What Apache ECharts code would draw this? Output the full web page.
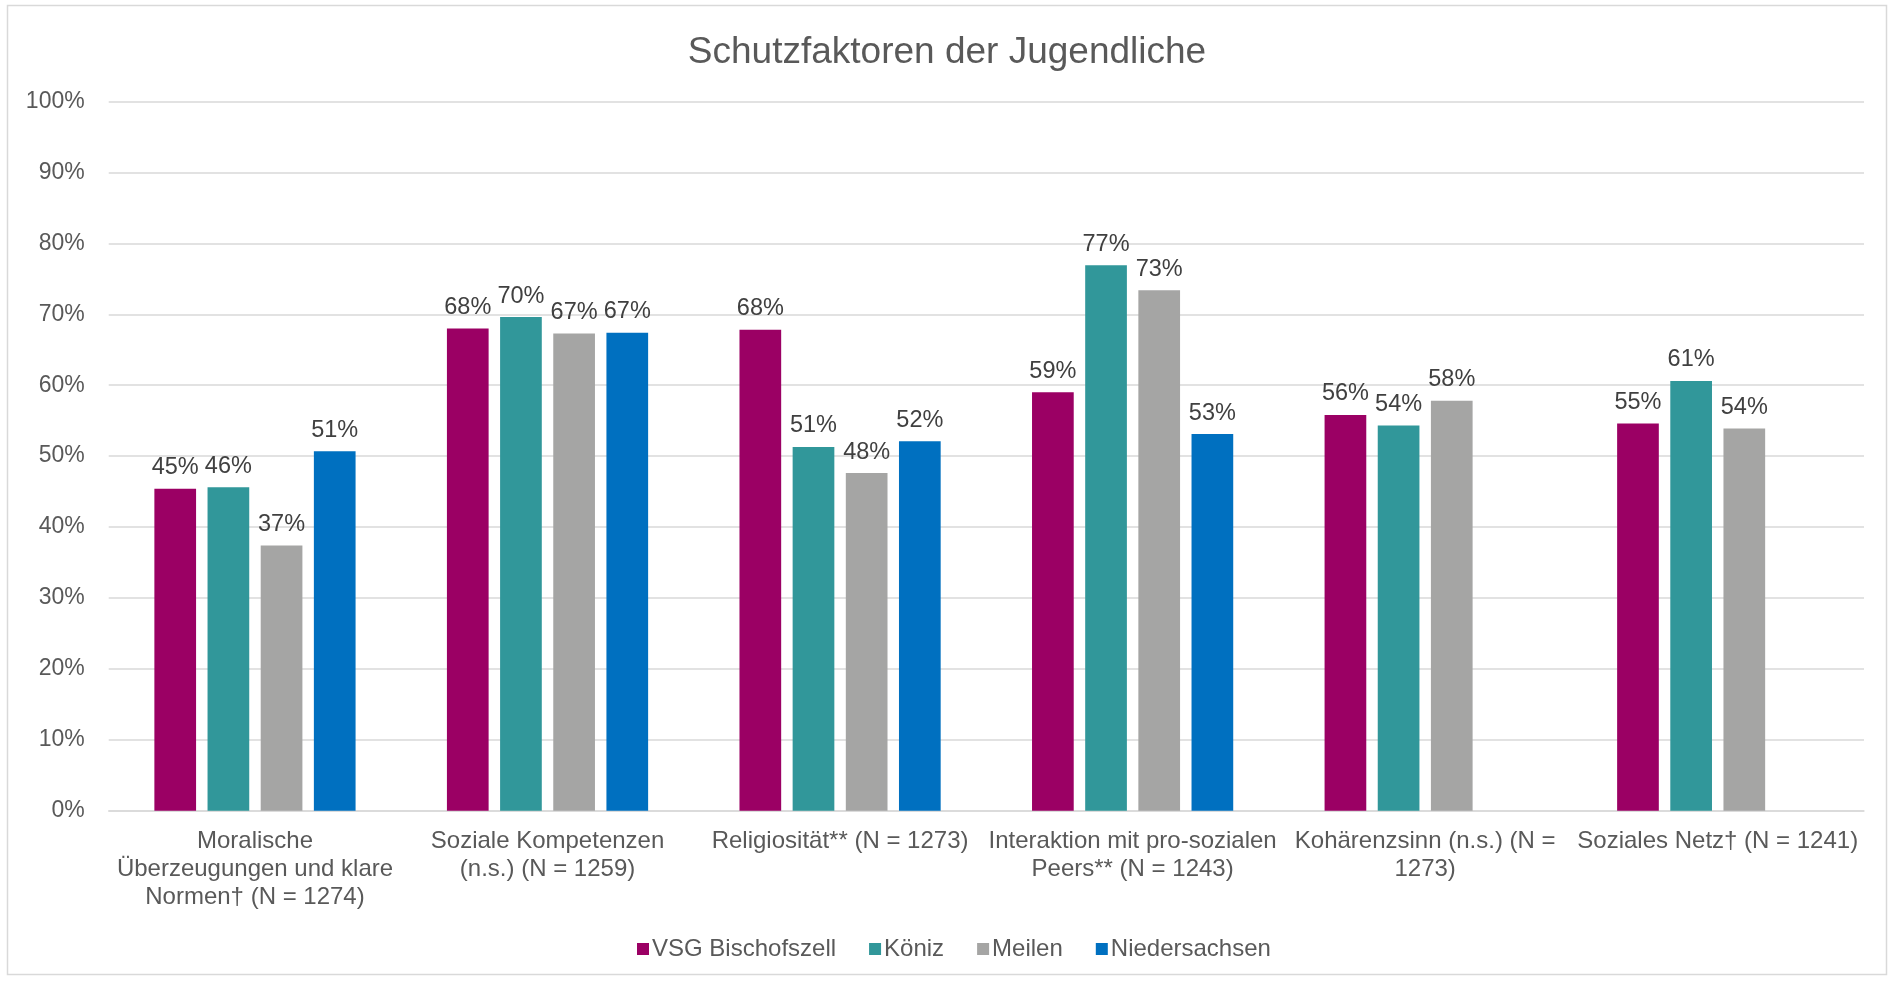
<!DOCTYPE html>
<html>
<head>
<meta charset="utf-8">
<script src="https://cdn.jsdelivr.net/npm/echarts@6/dist/echarts.min.js"></script>
<style>
html,body{margin:0;padding:0;background:#fff;}
#chart{width:1894px;height:981px;}
</style>
</head>
<body>
<div id="chart"></div>
<script>
const titleText = "Schutzfaktoren der Jugendliche";
const categories = [
  "Moralische\nÜberzeugungen und klare\nNormen† (N = 1274)",
  "Soziale Kompetenzen\n(n.s.) (N = 1259)",
  "Religiosität** (N = 1273)",
  "Interaktion mit pro-sozialen\nPeers** (N = 1243)",
  "Kohärenzsinn (n.s.) (N =\n1273)",
  "Soziales Netz† (N = 1241)"
];
const seriesNames = ["VSG Bischofszell", "Köniz", "Meilen", "Niedersachsen"];
const vsgBischofszell = [45.4, 68.0, 67.8, 59.0, 55.8, 54.6];
const koeniz = [45.6, 69.6, 51.3, 76.9, 54.3, 60.6];
const meilen = [37.4, 67.3, 47.6, 73.4, 57.8, 53.9];
const niedersachsen = [50.7, 67.4, 52.1, 53.1, null, null];
const yTicks = [0, 10, 20, 30, 40, 50, 60, 70, 80, 90, 100];

const colors = ["#9B0064", "#31979A", "#A5A5A4", "#0070C0"];
const seriesData = [vsgBischofszell, koeniz, meilen, niedersachsen];

const chart = echarts.init(document.getElementById('chart'), null, {renderer: 'canvas'});
const font = "'Liberation Sans', Arial, sans-serif";

chart.setOption({
  backgroundColor: '#ffffff',
  animation: false,
  textStyle: {fontFamily: font},
  title: {
    text: titleText,
    left: 'center',
    top: 29,
    textStyle: {fontFamily: font, fontSize: 37, fontWeight: 'normal', color: '#595959'}
  },
  graphic: [{
    type: 'rect',
    shape: {x: 7.5, y: 5.5, width: 1879, height: 969},
    style: {fill: 'none', stroke: '#D9D9D9', lineWidth: 1.5},
    silent: true, z: -1
  }],
  legend: {
    data: seriesNames,
    left: 632,
    top: 932,
    itemWidth: 12,
    itemHeight: 12,
    itemGap: 33,
    icon: 'rect',
    textStyle: {fontFamily: font, fontSize: 24, color: '#595959', padding: [0, 0, 0, -2]}
  },
  grid: {left: 108.7, right: 30, top: 101.5, bottom: 170.3, containLabel: false},
  xAxis: {
    type: 'category',
    data: categories,
    axisTick: {show: false},
    axisLine: {lineStyle: {color: '#D9D9D9', width: 1.5}},
    axisLabel: {
      interval: 0,
      fontFamily: font, fontSize: 24, color: '#595959',
      lineHeight: 27.7, margin: 17
    }
  },
  yAxis: {
    type: 'value',
    min: 0, max: 100, interval: 10,
    axisLine: {show: false},
    axisTick: {show: false},
    splitLine: {lineStyle: {color: '#D9D9D9', width: 1.5}},
    axisLabel: {
      fontFamily: font, fontSize: 23, color: '#595959', margin: 24,
      formatter: v => yTicks.includes(v) ? v + '%' : ''
    }
  },
  series: seriesNames.map((name, i) => ({
    name: name,
    type: 'bar',
    data: seriesData[i],
    barWidth: 41.7,
    barGap: '27.5%',
    itemStyle: {color: colors[i]},
    label: {
      show: true,
      position: 'top',
      distance: 9,
      fontFamily: font, fontSize: 23.5, color: '#404040',
      formatter: p => (p.value == null ? '' : Math.round(p.value) + '%')
    }
  }))
});
</script>
</body>
</html>
